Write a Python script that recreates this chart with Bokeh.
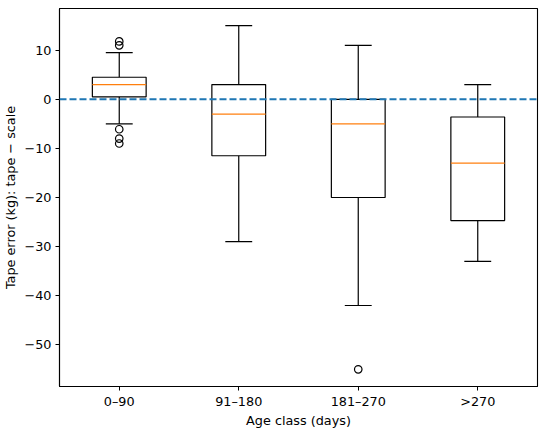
from bokeh.plotting import figure
from bokeh.models import FixedTicker, Span, ColumnDataSource
from bokeh.embed import file_html
from bokeh.resources import INLINE

# ---- data ----
categories = ["0–90", "91–180", "181–270", ">270"]
q1 = [0.5, -11.5, -20.0, -24.7]
medians = [3.0, -3.0, -5.0, -13.0]
q3 = [4.5, 3.0, 0.0, -3.6]
whisker_low = [-5.0, -29.0, -42.0, -33.0]
whisker_high = [9.5, 15.0, 11.0, 3.0]
outlier_cat = ["0–90", "0–90", "0–90", "0–90", "0–90", "181–270"]
outlier_val = [11.8, 11.0, -6.1, -8.0, -9.0, -55.0]
y_ticks = [10, 0, -10, -20, -30, -40, -50]
reference_value = 0.0

# ---- styling ----
FONT = "DejaVu Sans"
FS = "12.8px"
BOX_W = 0.45
CAP_W = BOX_W / 2

pos = [i + 1 for i in range(len(categories))]
pos_of = {c: p for c, p in zip(categories, pos)}

src = ColumnDataSource(dict(
    x=pos,
    q1=q1, med=medians, q3=q3, lo=whisker_low, hi=whisker_high,
    xl=[x - BOX_W / 2 for x in pos], xr=[x + BOX_W / 2 for x in pos],
    cl=[x - CAP_W / 2 for x in pos], cr=[x + CAP_W / 2 for x in pos],
))
out_src = ColumnDataSource(dict(x=[pos_of[c] for c in outlier_cat], y=outlier_val))

p = figure(frame_width=478, frame_height=378, output_backend="svg", toolbar_location=None,
           x_range=(0.5, 4.5), y_range=(-58.5, 18.5),
           min_border_left=52, min_border_top=8, min_border_right=4, min_border_bottom=30)

# whiskers
p.segment(x0="x", y0="q3", x1="x", y1="hi", source=src, line_color="black", line_width=1.2)
p.segment(x0="x", y0="q1", x1="x", y1="lo", source=src, line_color="black", line_width=1.2)
p.segment(x0="cl", y0="hi", x1="cr", y1="hi", source=src, line_color="black", line_width=1.2)
p.segment(x0="cl", y0="lo", x1="cr", y1="lo", source=src, line_color="black", line_width=1.2)
# boxes
p.vbar(x="x", width=BOX_W, top="q3", bottom="q1", source=src,
       fill_color="white", line_color="black", line_width=1.2)
# medians
p.segment(x0="xl", y0="med", x1="xr", y1="med", source=src, line_color="#ff7f0e", line_width=1.3)
# outliers
p.scatter(x="x", y="y", source=out_src, marker="circle", size=7.5,
          fill_color=None, line_color="black", line_width=1.2)

# reference line
p.add_layout(Span(location=reference_value, dimension="width", line_color="#1f77b4",
                  line_width=1.9, line_dash="7 3", level="overlay"))

p.grid.visible = False
p.outline_line_color = "black"
p.outline_line_width = 1.1
p.outline_line_alpha = 1

p.xaxis.ticker = FixedTicker(ticks=pos)
p.xaxis.major_label_overrides = {x: c for x, c in zip(pos, categories)}
p.yaxis.ticker = FixedTicker(ticks=y_ticks)
p.yaxis.major_label_overrides = {t: (str(t).replace("-", "\u2212")) for t in y_ticks}

p.xaxis.axis_label = "Age class (days)"
p.yaxis.axis_label = "Tape error (kg): tape \u2212 scale"

for ax in (p.xaxis[0], p.yaxis[0]):
    ax.axis_line_color = "black"
    ax.axis_line_width = 1.1
    ax.major_tick_line_color = "black"
    ax.major_tick_out = 4
    ax.major_tick_in = 0
    ax.minor_tick_out = 0
    ax.minor_tick_in = 0
    ax.major_label_text_font = FONT
    ax.major_label_text_font_size = FS
    ax.major_label_text_color = "black"
    ax.axis_label_text_font = FONT
    ax.axis_label_text_font_size = FS
    ax.axis_label_text_font_style = "normal"
    ax.axis_label_text_color = "black"

p.xaxis.major_label_standoff = 3
p.xaxis.axis_label_standoff = 1
p.yaxis.major_label_standoff = 4
p.yaxis.axis_label_standoff = 3

open("out.html", "w").write(file_html(p, INLINE))
